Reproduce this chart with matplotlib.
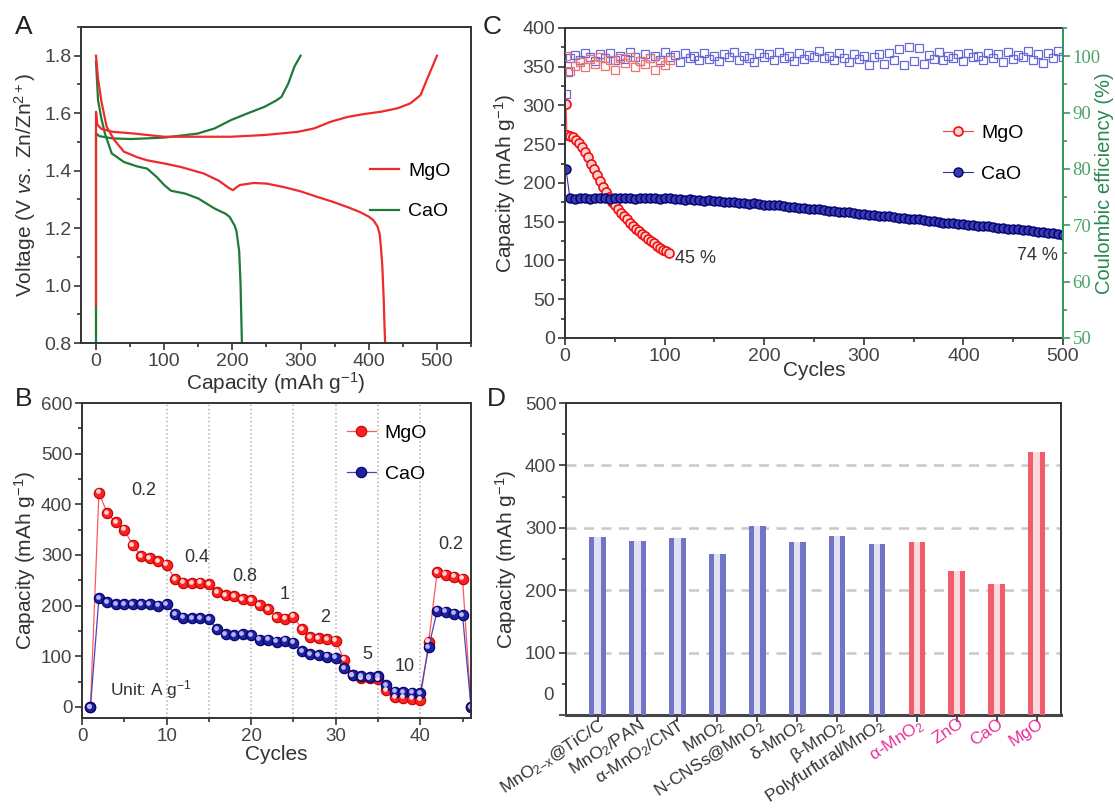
import matplotlib
matplotlib.use('Agg')
import matplotlib.pyplot as plt
import numpy as np
from matplotlib.ticker import MultipleLocator
from matplotlib.transforms import offset_copy

plt.rcParams['font.family'] = ['Liberation Sans', 'DejaVu Sans']
plt.rcParams['mathtext.fontset'] = 'custom'
plt.rcParams['mathtext.rm'] = 'Liberation Sans'
plt.rcParams['mathtext.it'] = 'Liberation Sans:italic'
plt.rcParams['mathtext.bf'] = 'Liberation Sans:bold'

# ---------------- data ----------------
# A: galvanostatic charge/discharge curves (capacity mAh/g, voltage V)
mgo_dis_cap = [0, 3, 8, 15.6, 27, 41, 60, 75, 100, 124, 158, 180, 196, 201, 206, 211, 231, 250, 275, 300,
               324, 348, 370, 387, 400, 407, 413, 416, 418, 420, 422, 423, 424]
mgo_dis_v = [1.80, 1.72, 1.64, 1.553, 1.506, 1.466, 1.447, 1.436, 1.425, 1.413, 1.39, 1.365, 1.338, 1.332,
             1.342, 1.35, 1.357, 1.355, 1.343, 1.328, 1.309, 1.291, 1.272, 1.256, 1.24, 1.227, 1.205, 1.18,
             1.13, 1.065, 0.95, 0.87, 0.80]
mgo_chg_cap = [0, 0, 2, 8, 25, 52, 100, 149, 198, 247, 296, 320, 344, 369, 393, 418, 442, 461, 476, 485, 493, 500]
mgo_chg_v = [0.93, 1.605, 1.56, 1.545, 1.535, 1.53, 1.518, 1.518, 1.518, 1.524, 1.535, 1.547, 1.57, 1.587,
             1.597, 1.605, 1.617, 1.634, 1.663, 1.715, 1.76, 1.80]
cao_dis_cap = [0, 3, 8, 13, 23, 41, 60, 75, 89, 100, 110, 131, 150, 174, 190, 196, 203, 206, 210, 212, 213, 214]
cao_dis_v = [1.78, 1.645, 1.58, 1.53, 1.46, 1.43, 1.415, 1.407, 1.378, 1.35, 1.33, 1.32, 1.303, 1.268, 1.25,
             1.239, 1.21, 1.19, 1.12, 1.005, 0.90, 0.80]
cao_chg_cap = [0, 0, 5, 25, 52, 100, 149, 174, 198, 223, 247, 265, 272, 282, 291, 300]
cao_chg_v = [0.80, 1.53, 1.52, 1.512, 1.51, 1.515, 1.529, 1.547, 1.576, 1.60, 1.622, 1.645, 1.657, 1.703,
             1.762, 1.80]

# B: rate performance
rate_cycles = list(range(1, 47))
mgo_rate = [0, 423, 382, 365, 350, 319, 298, 293, 288, 281, 252, 245, 244, 245, 242, 226, 220, 219, 213, 211,
            201, 193, 177, 174, 178, 154, 138, 135, 134, 131, 93, 63, 57, 56, 55, 33, 19, 18, 16, 14,
            129, 266, 261, 257, 253, 0]
cao_rate = [0, 215, 207, 203, 203, 203, 203, 203, 200, 203, 183, 176, 175, 175, 173, 153, 144, 141, 143, 141,
            133, 133, 129, 131, 127, 110, 104, 102, 99, 97, 77, 62, 60, 59, 60, 43, 30, 29, 28, 27,
            118, 190, 188, 184, 181, 0]
rate_bounds = [10, 15, 20, 25, 30, 35, 40]
rate_labels = ['0.2', '0.4', '0.8', '1', '2', '5', '10', '0.2']
rate_lab_x = [7.3, 13.6, 19.2, 24.0, 28.8, 33.7, 38.2, 43.6]
rate_lab_y = [428, 294, 257, 221, 176, 103, 79, 320]

# C: long cycling
mgo_cyc = [1] + list(range(2, 105, 3))
mgo_cap = [302, 262, 261, 259, 255, 251, 246, 240, 233, 225, 218, 210, 202, 195, 189, 182, 176, 171, 166,
           161, 157, 153, 149, 145, 141, 138, 134, 131, 128, 125, 122, 119, 116, 114, 112, 110]
cao_cyc = [1] + list(range(5, 501, 5))
cao_cap = [218,
           180, 179, 181, 180, 179, 180, 181, 180, 179, 180,
           180, 181, 180, 179, 180, 181, 180, 180, 179, 180,
           180, 179, 179, 178, 179, 178, 178, 177, 178, 177,
           177, 176, 176, 175, 174, 174, 173, 174, 173, 172,
           172, 171, 171, 170, 169, 169, 168, 168, 167, 166,
           166, 165, 164, 164, 163, 163, 162, 161, 160, 160,
           159, 159, 158, 157, 157, 156, 155, 155, 154, 153,
           153, 152, 151, 151, 150, 149, 149, 148, 147, 147,
           146, 146, 145, 144, 144, 143, 142, 142, 141, 140,
           140, 139, 139, 138, 137, 137, 136, 135, 134, 133]
cao_ce_cyc = [1, 3] + list(range(5, 501, 5))
cao_ce = [93.3, 97.2,
          99.6, 100.2, 99.3, 100.5, 99.8, 99.1, 100.3, 99.7, 100.6, 99.4,
          100.1, 99.5, 100.8, 99.9, 99.2, 100.4, 99.6, 100.0, 99.3, 100.7,
          99.8, 100.2, 98.9, 100.5, 99.7, 100.1, 99.4, 100.6, 99.5, 100.0,
          99.2, 100.4, 99.9, 100.7, 99.3, 100.1, 99.6, 98.9, 100.5, 99.8,
          100.3, 99.4, 100.8, 99.7, 100.0, 99.1, 100.6, 99.5, 100.2, 99.8,
          100.9, 99.6, 100.1, 99.3, 100.5, 99.7, 99.0, 100.4, 99.5, 100.0,
          98.4, 99.9, 100.3, 98.6, 100.6, 99.4, 101.3, 98.5, 101.6, 99.1,
          101.4, 98.7, 100.2, 99.5, 100.8, 99.3, 100.0, 99.7, 100.4, 99.2,
          100.6, 99.8, 100.1, 99.4, 100.5, 99.6, 100.3, 99.0, 100.7, 99.5,
          100.2, 99.8, 100.9, 99.3, 100.4, 98.8, 100.6, 99.7, 101.0, 99.9]
mgo_ce_cyc = [1] + list(range(5, 106, 5))
mgo_ce = [100.0, 97.4, 98.3, 99.0, 98.0, 99.5, 98.6, 99.8, 98.2, 99.3, 97.5, 99.6, 98.8, 99.9, 98.1,
          99.2, 98.6, 99.7, 97.6, 99.0, 98.4, 99.4]

# D: comparison with reported cathodes
materials = [r'MnO$_{2\mathrm{-x}}$@TiC/C', r'MnO$_2$/PAN', r'α-MnO$_2$/CNT', r'MnO$_2$',
             r'N-CNSs@MnO$_2$', r'δ-MnO$_2$', r'β-MnO$_2$', r'Polyfurfural/MnO$_2$',
             r'α-MnO$_2$', 'ZnO', 'CaO', 'MgO']
capacities = [286, 279, 284, 258, 303, 277, 287, 274, 278, 230, 210, 422]
n_reported = 8

# ---------------- figure ----------------
W, H = 1115, 808
fig = plt.figure(figsize=(W / 100, H / 100), dpi=100)
fig.patch.set_facecolor('white')


def px_axes(l, t, r, b):
    return fig.add_axes([l / W, 1 - b / H, (r - l) / W, (b - t) / H])


def style(ax, fs=14):
    for s in ax.spines.values():
        s.set_color('#333333')
        s.set_linewidth(1.4)
    ax.tick_params(which='both', direction='out', colors='#333333', labelcolor='#444444',
                   labelsize=fs, width=1.2, pad=2)
    ax.tick_params(which='major', length=5)
    ax.tick_params(which='minor', length=3)


RED = '#ee2a2a'
GREEN = '#1f7a3a'
leg_kw = dict(frameon=False, fontsize=14, handlelength=1.5, handletextpad=0.45, labelspacing=1.2,
              borderpad=0, borderaxespad=0)

# ---- A ----
axA = px_axes(81, 27, 471, 343)
axA.plot(cao_dis_cap, cao_dis_v, color=GREEN, lw=1.6)
axA.plot(cao_chg_cap, cao_chg_v, color=GREEN, lw=1.6, label='CaO')
axA.plot(mgo_dis_cap, mgo_dis_v, color=RED, lw=1.6)
axA.plot(mgo_chg_cap, mgo_chg_v, color=RED, lw=1.6, label='MgO')
axA.set_xlim(-22, 550)
axA.set_ylim(0.8, 1.9)
axA.xaxis.set_major_locator(MultipleLocator(100))
axA.xaxis.set_minor_locator(MultipleLocator(50))
axA.yaxis.set_minor_locator(MultipleLocator(0.1))
axA.set_yticks([0.8, 1.0, 1.2, 1.4, 1.6, 1.8])
style(axA, 14)
axA.set_xlabel('Capacity (mAh g$^{-1}$)', fontsize=15, color='#333333', labelpad=0)
axA.set_ylabel(r'Voltage (V $\mathit{vs.}$ Zn/Zn$^{2+}$)', fontsize=15, color='#333333', labelpad=4)
h, l = axA.get_legend_handles_labels()
axA.legend(h[::-1], l[::-1], loc='upper left', bbox_to_anchor=(0.741, 0.573), **leg_kw)

# ---- B ----
axB = px_axes(82, 403, 471, 718)
for xb in rate_bounds:
    axB.axvline(xb, color='#b0b0b0', ls=':', lw=1.1, zorder=0)
axB.plot(rate_cycles, mgo_rate, '-o', color='#ff5a5a', lw=0.9, ms=7.5, mfc='#ff2020', mec='#c00000',
         mew=0.8, label='MgO')
axB.plot(rate_cycles, cao_rate, '-o', color='#4646c0', lw=0.9, ms=7.5, mfc='#20209c', mec='#000068',
         mew=0.8, label='CaO')
hl = offset_copy(axB.transData, fig=fig, x=-1.3, y=1.3, units='dots')
axB.plot(rate_cycles, mgo_rate, 'o', ms=2.4, color='#ffd8d8', transform=hl)
axB.plot(rate_cycles, cao_rate, 'o', ms=2.4, color='#b8b8ff', transform=hl)
for t, xt, yt in zip(rate_labels, rate_lab_x, rate_lab_y):
    axB.text(xt, yt, t, fontsize=13, color='#333333', ha='center', va='center')
axB.text(3.3, 34, 'Unit: A g$^{-1}$', fontsize=12.5, color='#333333', ha='left', va='center')
axB.set_xlim(0, 46)
axB.set_ylim(-22, 600)
axB.xaxis.set_major_locator(MultipleLocator(10))
axB.xaxis.set_minor_locator(MultipleLocator(5))
axB.yaxis.set_major_locator(MultipleLocator(100))
axB.yaxis.set_minor_locator(MultipleLocator(50))
style(axB, 13.5)
axB.set_xlabel('Cycles', fontsize=15, color='#333333', labelpad=0)
axB.set_ylabel('Capacity (mAh g$^{-1}$)', fontsize=15, color='#333333', labelpad=2)
axB.legend(loc='upper left', bbox_to_anchor=(0.681, 0.932), **leg_kw)

# ---- C ----
axC = px_axes(565, 28, 1063, 338)
axC2 = axC.twinx()
lm, = axC.plot(mgo_cyc, mgo_cap, '-o', color='#ff4040', lw=0.8, ms=6.5, mfc='#ffd0d0', mec='#ee1010',
               mew=1.2, label='MgO')
lc, = axC.plot(cao_cyc, cao_cap, '-o', color='#3030a0', lw=0.8, ms=6.5, mfc='#3a3ab0', mec='#00006e',
               mew=1.0, label='CaO')
axC2.plot(cao_ce_cyc, cao_ce, 's', ms=6, mfc='none', mec='#6868d8', mew=0.9)
axC2.plot(mgo_ce_cyc, mgo_ce, 's', ms=6, mfc='none', mec='#f07070', mew=0.9)
axC.text(110, 103, '45 %', fontsize=13, color='#333333', ha='left', va='center')
axC.text(495, 106, '74 %', fontsize=13, color='#333333', ha='right', va='center')
axC.set_xlim(0, 500)
axC.set_ylim(0, 400)
axC.xaxis.set_major_locator(MultipleLocator(100))
axC.xaxis.set_minor_locator(MultipleLocator(50))
axC.yaxis.set_major_locator(MultipleLocator(50))
axC.yaxis.set_minor_locator(MultipleLocator(25))
style(axC, 14)
axC.set_xlabel('Cycles', fontsize=15, color='#333333', labelpad=-3)
axC.set_ylabel('Capacity (mAh g$^{-1}$)', fontsize=15, color='#333333', labelpad=3)
axC2.set_ylim(50, 105)
axC2.yaxis.set_minor_locator(MultipleLocator(5))
axC2.set_yticks([50, 60, 70, 80, 90, 100])
for s in axC2.spines.values():
    s.set_visible(False)
axC2.spines['right'].set_visible(True)
axC2.spines['right'].set_color('#3a9a5e')
axC2.spines['right'].set_linewidth(1.4)
axC2.tick_params(which='both', direction='out', colors='#3a9a5e', labelcolor='#4aa468', width=1.2, pad=2)
axC2.tick_params(which='major', length=5, labelsize=13.5)
axC2.tick_params(which='minor', length=3)
for lab in axC2.get_yticklabels():
    lab.set_fontfamily('Liberation Serif')
fig.text(1104 / W, 1 - 183 / H, 'Coulombic efficiency (%)', rotation=90, fontsize=14.5,
         color='#2a8752', ha='center', va='center')
axC.legend([lm, lc], ['MgO', 'CaO'], loc='upper left', bbox_to_anchor=(0.76, 0.69), **leg_kw)

# ---- D ----
axD = px_axes(566, 403, 1061, 715)
xd = np.arange(len(materials))
dark = ['#7274c4'] * n_reported + ['#f05c6c'] * (len(materials) - n_reported)
light = ['#e0e0f6'] * n_reported + ['#fdd8dc'] * (len(materials) - n_reported)
axD.bar(xd, capacities, width=0.42, color=light, zorder=2)
axD.bar(xd - 0.145, capacities, width=0.13, color=dark, zorder=3)
axD.bar(xd + 0.145, capacities, width=0.13, color=dark, zorder=3)
axD.set_xlim(-0.79, 11.61)
axD.set_ylim(0, 500)
axD.set_yticks([0, 100, 200, 300, 400, 500], labels=['', '100', '200', '300', '400', '500'])
axD.yaxis.set_minor_locator(MultipleLocator(50))
for yg in [100, 200, 300, 400]:
    axD.axhline(yg, color='#c8c8c8', lw=1.8, ls=(0, (4, 3)), zorder=1)
style(axD, 13.5)
axD.spines['bottom'].set_linewidth(2.2)
axD.spines['bottom'].set_color('#444444')
axD.annotate('0', xy=(0, 0), xycoords=('axes fraction', 'data'), xytext=(-9, 14),
             textcoords='offset points', ha='right', va='center', fontsize=13.5, color='#444444')
axD.set_xticks(xd, labels=[''] * len(materials))
lab_tr = offset_copy(axD.get_xaxis_transform(), fig=fig, x=1, y=-1, units='dots')
for i, name in enumerate(materials):
    axD.text(xd[i], 0, name, transform=lab_tr, rotation=33, rotation_mode='anchor', ha='right', va='top',
             fontsize=12.5, color='#333333' if i < n_reported else '#e8309a')
axD.set_ylabel('Capacity (mAh g$^{-1}$)', fontsize=15, color='#333333', labelpad=4)

# panel letters
for letter, xl, yl in [('A', 15, 27), ('B', 15, 399), ('C', 483, 27), ('D', 487, 399)]:
    fig.text(xl / W, 1 - yl / H, letter, fontsize=19, color='#222222', ha='left', va='center')

fig.savefig('out.png', dpi=100, facecolor='white')
